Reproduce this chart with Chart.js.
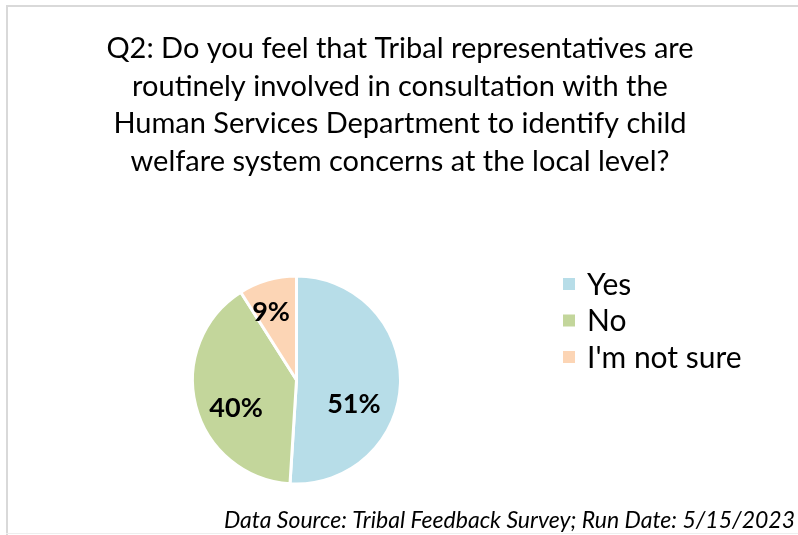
<!DOCTYPE html>
<html>
<head>
<meta charset="utf-8">
<script src="https://cdn.jsdelivr.net/npm/chart.js@4.4.1/dist/chart.umd.min.js"></script>
<style>
  html, body { margin: 0; padding: 0; background: #ffffff; }
  #wrap { position: relative; width: 798px; height: 535px; }
  canvas { display: block; }
</style>
</head>
<body>
<div id="wrap"><canvas id="c" width="798" height="535"></canvas></div>
<script>
// Survey answers and their shares (percent)
const categories = ["Yes", "No", "I'm not sure"];
const shares = [51, 40, 9];
const sliceColors = ["#b7dde8", "#c3d69b", "#fcd5b5"];

const titleLines = [
  "Q2: Do you feel that Tribal representatives are",
  "routinely involved in consultation with the",
  "Human Services Department to identify child",
  "welfare system concerns at the local level?"
];
const sourceNote = "Data Source: Tribal Feedback Survey; Run Date: 5/15/2023";

const FONT = "Lato, 'Open Sans', 'DejaVu Sans', sans-serif";

// Draws the frame, title, legend, slice labels and source note
const decorations = {
  id: 'decorations',
  beforeDraw(chart) {
    const ctx = chart.ctx;
    ctx.save();
    ctx.fillStyle = '#d9d9d9';
    ctx.fillRect(6, 5, 792, 2);
    ctx.fillRect(6, 5, 2, 530);
    ctx.fillStyle = '#eeeeee';
    ctx.fillRect(6, 533, 792, 1);
    ctx.restore();
  },
  afterDraw(chart) {
    const ctx = chart.ctx;
    ctx.save();
    ctx.fillStyle = '#000000';
    ctx.textAlign = 'center';
    ctx.textBaseline = 'middle';
    ctx.font = "29px " + FONT;
    titleLines.forEach((t, i) => ctx.fillText(t, 400, 49 + i * 37.5));

    // legend
    ctx.textAlign = 'left';
    ctx.font = "30px " + FONT;
    categories.forEach((name, i) => {
      const y = 284 + i * 36.5;
      ctx.fillStyle = sliceColors[i];
      ctx.fillRect(563, y - 6, 12, 12);
      ctx.fillStyle = '#000000';
      ctx.fillText(name, 587, y + 1);
    });

    // percentage labels on the slices
    const meta = chart.getDatasetMeta(0);
    const nudges = [[-5, 22], [0, 13], [-8, -8]];
    ctx.textAlign = 'center';
    ctx.font = "bold 27px " + FONT;
    ctx.fillStyle = '#000000';
    meta.data.forEach((arc, i) => {
      const p = arc.getProps(['x', 'y', 'startAngle', 'endAngle', 'outerRadius'], true);
      const mid = (p.startAngle + p.endAngle) / 2;
      const rr = p.outerRadius * 0.6;
      const x = p.x + Math.cos(mid) * rr + nudges[i][0];
      const y = p.y + Math.sin(mid) * rr + nudges[i][1];
      ctx.fillText(shares[i] + '%', x, y);
    });

    // source note
    ctx.textAlign = 'right';
    ctx.font = "italic 23px " + FONT;
    ctx.fillText(sourceNote, 795, 521);
    ctx.restore();
  }
};

new Chart(document.getElementById('c'), {
  type: 'pie',
  data: {
    labels: categories,
    datasets: [{
      data: shares,
      backgroundColor: sliceColors,
      borderColor: '#ffffff',
      borderWidth: 3
    }]
  },
  options: {
    responsive: false,
    animation: false,
    events: [],
    layout: { padding: { left: 191, right: 396, top: 274, bottom: 49 } },
    plugins: {
      legend: { display: false },
      title: { display: false },
      tooltip: { enabled: false }
    }
  },
  plugins: [decorations]
});
</script>
</body>
</html>
